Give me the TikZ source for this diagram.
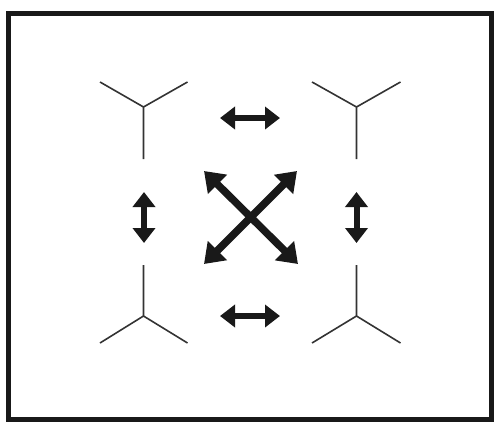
\documentclass[tikz,border=0pt]{standalone}
\usetikzlibrary{arrows.meta}
\begin{document}
\begin{tikzpicture}[x=1pt,y=-1pt,
    frame/.style={line width=5pt,draw=black!90},
    arm/.style={line width=1.6pt,draw=black!80},
    swap/.style={line width=6pt,black!90,{Triangle[length=15pt,width=22pt]}-{Triangle[length=15pt,width=22pt]}},
    crossswap/.style={line width=7.5pt,black!90,{Triangle[length=19pt,width=26pt]}-{Triangle[length=19pt,width=26pt]}}]
    \useasboundingbox (0,0) rectangle (495,423);
        \draw[frame] (8.5,13.5) rectangle (491.5,419.5);
    % the four Y shapes
        \coordinate (tl) at (143.5,107);
        \coordinate (tr) at (356.5,107);
        \coordinate (bl) at (143.5,316);
        \coordinate (br) at (356.5,316);
        \draw[arm] (tl) ++(-43.5,-25) -- (tl) -- ++(44,-25) (tl) -- ++(0,52);
        \draw[arm] (tr) ++(-44.5,-25) -- (tr) -- ++(44,-25) (tr) -- ++(0,52);
        \draw[arm] (bl) ++(-43.5,27) -- (bl) -- ++(44,27) (bl) -- ++(0,-51);
        \draw[arm] (br) ++(-44.5,27) -- (br) -- ++(44,27) (br) -- ++(0,-51);
    % arrow ends
        \coordinate (t1) at (220,118);  \coordinate (t2) at (280,118);
        \coordinate (b1) at (220,316);  \coordinate (b2) at (280,316);
        \coordinate (l1) at (144,192);  \coordinate (l2) at (144,243);
        \coordinate (r1) at (356.5,192); \coordinate (r2) at (356.5,243);
        \coordinate (c1) at (204,171);  \coordinate (c2) at (298,264);
        \coordinate (c3) at (297,171);  \coordinate (c4) at (204,264);
        \draw[swap] (t1) -- (t2);
        \draw[swap] (b1) -- (b2);
        \draw[swap] (l1) -- (l2);
        \draw[swap] (r1) -- (r2);
        \draw[crossswap] (c1) -- (c2);
        \draw[crossswap] (c3) -- (c4);
\end{tikzpicture}
\end{document}
